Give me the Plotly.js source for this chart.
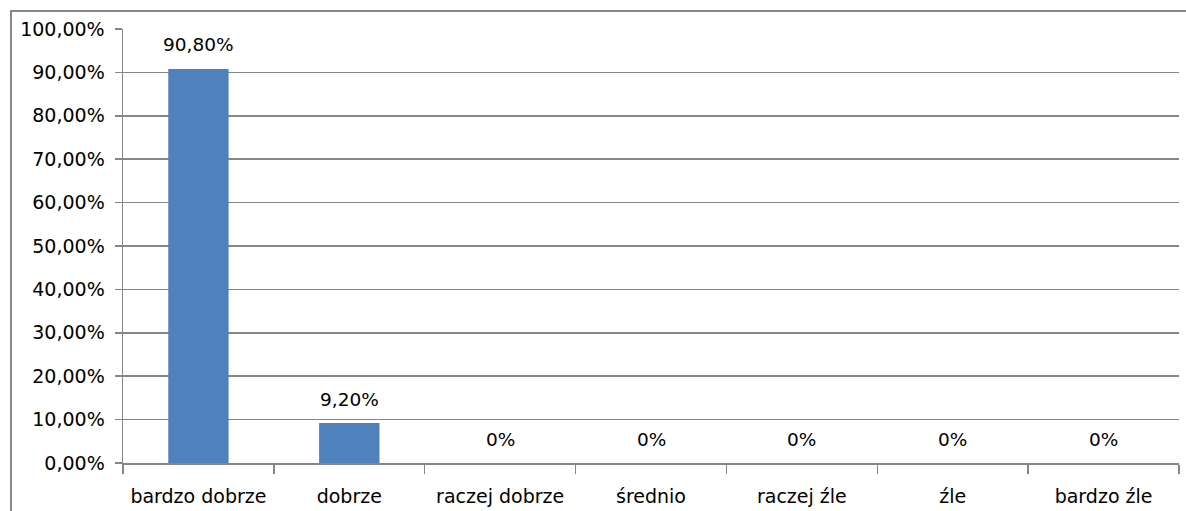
<!DOCTYPE html>
<html>
<head>
<meta charset="utf-8">
<script src="https://cdn.plot.ly/plotly-3.0.1.min.js"></script>
<style>
html,body{margin:0;padding:0;background:#fff;overflow:hidden;}
#wrap{position:relative;width:1186px;height:511px;}
#frame{position:absolute;left:10px;top:10px;width:1200px;height:600px;border:2px solid #878787;box-sizing:border-box;pointer-events:none;z-index:5;}
#chart{position:absolute;left:0;top:0;width:1186px;height:511px;}
</style>
</head>
<body>
<div id="wrap">
<div id="chart"></div>
<div id="frame"></div>
</div>
<script>
const categories = ['bardzo dobrze', 'dobrze', 'raczej dobrze', 'średnio', 'raczej źle', 'źle', 'bardzo źle'];
const values = [0.908, 0.092, 0, 0, 0, 0, 0];
const labels = ['90,80%', '9,20%', '0%', '0%', '0%', '0%', '0%'];
const tickVals = [0, 0.1, 0.2, 0.3, 0.4, 0.5, 0.6, 0.7, 0.8, 0.9, 1.0];

const FONT = 'DejaVu Sans, sans-serif';
const GRID = '#868686';

const trace = {
  type: 'bar',
  x: categories,
  y: values,
  width: 0.4,
  marker: {color: '#4F81BD', line: {width: 0}},
  hoverinfo: 'none'
};

const annotations = categories.map((c, i) => ({
  x: c, y: values[i], xref: 'x', yref: 'y',
  text: labels[i], showarrow: false,
  yanchor: 'middle', yshift: 24,
  font: {family: FONT, size: 18.5, color: '#000'}
}));

const layout = {
  width: 1186, height: 511,
  margin: {l: 123, r: 7, t: 29, b: 48, pad: 0},
  paper_bgcolor: '#fff', plot_bgcolor: '#fff',
  separators: ',.',
  showlegend: false,
  bargap: 0.6,
  xaxis: {
    type: 'category',
    tickson: 'boundaries',
    ticks: 'outside', ticklen: 9, tickwidth: 1.5, tickcolor: GRID,
    showline: true, linecolor: GRID, linewidth: 1.5,
    showgrid: false, zeroline: false,
    tickfont: {family: FONT, size: 19, color: '#000'},
    ticklabelstandoff: 16
  },
  yaxis: {
    range: [0, 1],
    tickvals: tickVals,
    tickformat: '.2%',
    ticks: 'outside', ticklen: 7, tickwidth: 1.5, tickcolor: GRID,
    showline: true, linecolor: GRID, linewidth: 1.5,
    showgrid: true, gridcolor: GRID, gridwidth: 1.5,
    zeroline: false,
    tickfont: {family: FONT, size: 19, color: '#000'},
    ticklabelstandoff: 6
  },
  annotations: annotations
};

Plotly.newPlot('chart', [trace], layout, {displayModeBar: false, staticPlot: true});
</script>
</body>
</html>
